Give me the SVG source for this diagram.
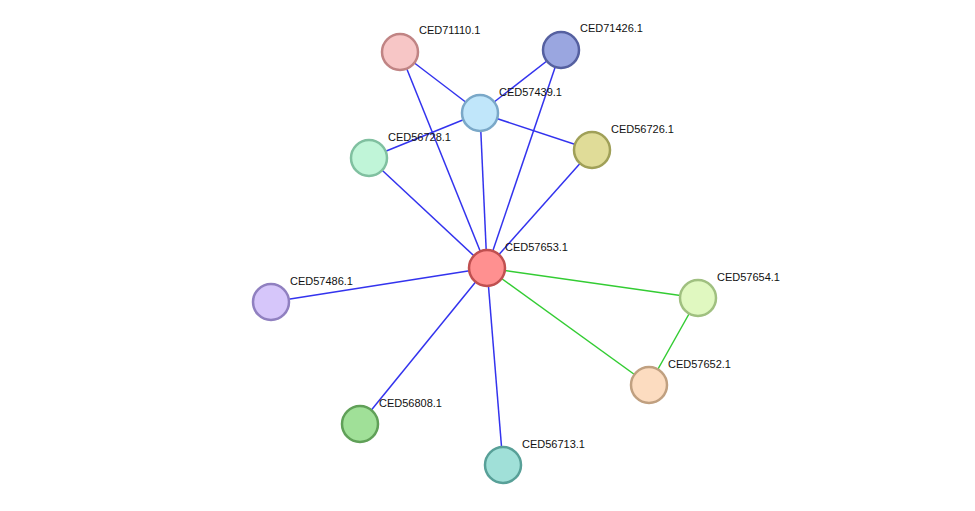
<svg xmlns="http://www.w3.org/2000/svg" width="975" height="511" viewBox="0 0 975 511">
<style>
.b{stroke:#3333ee;stroke-width:1.5}
.g{stroke:#33cc33;stroke-width:1.5}
circle{stroke-width:2.5}
text{font-family:"Liberation Sans",Arial,sans-serif;font-size:11px;fill:#111}
</style>
<rect width="975" height="511" fill="#fff"/>
<g id="edges">
<line class="b" x1="400" y1="52" x2="480" y2="113"/>
<line class="b" x1="400" y1="52" x2="487" y2="268"/>
<line class="b" x1="561" y1="50" x2="480" y2="113"/>
<line class="b" x1="561" y1="50" x2="487" y2="268"/>
<line class="b" x1="480" y1="113" x2="369" y2="158"/>
<line class="b" x1="480" y1="113" x2="592" y2="150"/>
<line class="b" x1="480" y1="113" x2="487" y2="268"/>
<line class="b" x1="369" y1="158" x2="487" y2="268"/>
<line class="b" x1="592" y1="150" x2="487" y2="268"/>
<line class="b" x1="487" y1="268" x2="271" y2="302"/>
<line class="b" x1="487" y1="268" x2="360" y2="424"/>
<line class="b" x1="487" y1="268" x2="503" y2="465"/>
<line class="g" x1="487" y1="268" x2="698" y2="298"/>
<line class="g" x1="487" y1="268" x2="649" y2="385"/>
<line class="g" x1="698" y1="298" x2="649" y2="385"/>
</g>
<g id="n71110"><circle cx="400" cy="52" r="18" fill="#f7c6c6" stroke="#c08484"/><text x="419" y="34">CED71110.1</text></g>
<g id="n71426"><circle cx="561" cy="50" r="18" fill="#9aa6e0" stroke="#5560a0"/><text x="580" y="32">CED71426.1</text></g>
<g id="n57439"><circle cx="480" cy="113" r="18" fill="#c0e6fa" stroke="#7aa8c8"/><text x="499" y="96">CED57439.1</text></g>
<g id="n56728"><circle cx="369" cy="158" r="18" fill="#c0f5d8" stroke="#80c0a0"/><text x="388" y="141">CED56728.1</text></g>
<g id="n56726"><circle cx="592" cy="150" r="18" fill="#e0dc98" stroke="#a0a058"/><text x="611" y="133">CED56726.1</text></g>
<g id="n57653"><circle cx="487" cy="268" r="18" fill="#ff9090" stroke="#c05050"/><text x="505" y="251">CED57653.1</text></g>
<g id="n57486"><circle cx="271" cy="302" r="18" fill="#d6c6fa" stroke="#9080c0"/><text x="290" y="285">CED57486.1</text></g>
<g id="n57654"><circle cx="698" cy="298" r="18" fill="#e0f8c0" stroke="#a0c080"/><text x="717" y="281">CED57654.1</text></g>
<g id="n57652"><circle cx="649" cy="385" r="18" fill="#fcdcc0" stroke="#c0a080"/><text x="668" y="368">CED57652.1</text></g>
<g id="n56808"><circle cx="360" cy="424" r="18" fill="#a0e098" stroke="#60a058"/><text x="379" y="407">CED56808.1</text></g>
<g id="n56713"><circle cx="503" cy="465" r="18" fill="#a0e0d8" stroke="#58a098"/><text x="522" y="448">CED56713.1</text></g>
</svg>
